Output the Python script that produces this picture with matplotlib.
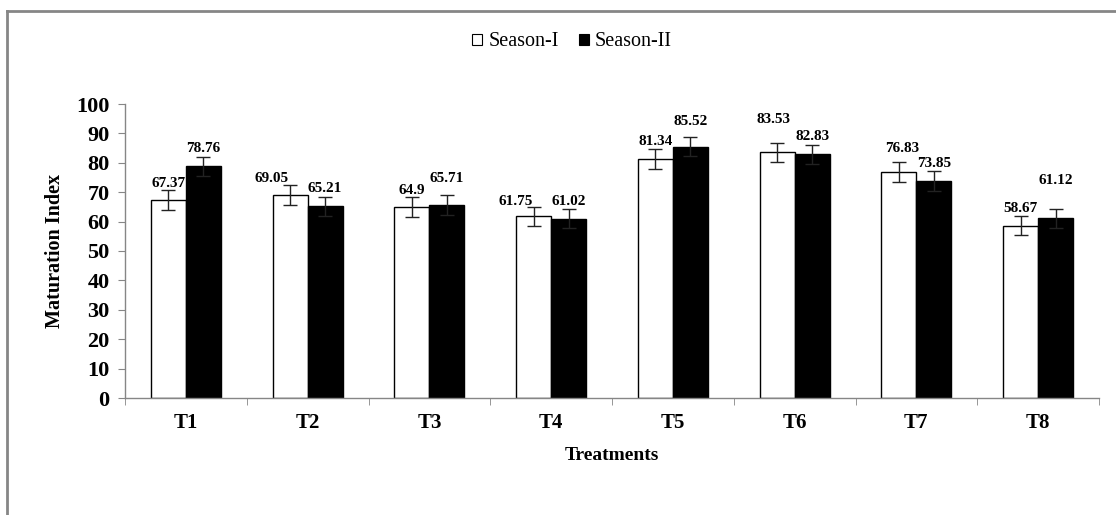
import matplotlib
matplotlib.use("Agg")
import matplotlib.pyplot as plt
import numpy as np
from matplotlib.patches import Rectangle
from matplotlib.lines import Line2D

treatments = ["T1", "T2", "T3", "T4", "T5", "T6", "T7", "T8"]
season1 = [67.37, 69.05, 64.9, 61.75, 81.34, 83.53, 76.83, 58.67]
season2 = [78.76, 65.21, 65.71, 61.02, 85.52, 82.83, 73.85, 61.12]
err1 = [3.3, 3.3, 3.3, 3.3, 3.3, 3.3, 3.3, 3.3]
err2 = [3.3, 3.3, 3.3, 3.3, 3.3, 3.3, 3.3, 3.3]
yticks = [0, 10, 20, 30, 40, 50, 60, 70, 80, 90, 100]

# label placement (data-unit heights and x shifts in category units)
lab1_y = [73.1, 74.8, 70.7, 66.7, 87.1, 94.6, 85.0, 64.6]
lab2_y = [85.0, 71.1, 74.8, 66.7, 94.2, 88.8, 79.9, 74.1]
lab1_dx = [0, -0.15, 0, -0.15, 0, -0.03, 0.03, 0]

plt.rcParams['font.family'] = ['Liberation Serif', 'DejaVu Serif']

fig = plt.figure(figsize=(11.16, 5.15), dpi=100)
W, H = 1116, 515
ax = fig.add_axes([125 / W, 1 - 398 / H, (1099 - 125) / W, (398 - 104) / H])

x = np.arange(len(treatments))
bw = 0.2875
gray = '#868686'
ax.bar(x - bw / 2, season1, bw, color='white', edgecolor='black', linewidth=1.0, zorder=2)
ax.bar(x + bw / 2, season2, bw, color='black', edgecolor='black', linewidth=1.0, zorder=2)
ax.errorbar(x - bw / 2, season1, yerr=err1, fmt='none', ecolor='#222222', elinewidth=1.0,
            capsize=5, capthick=1.0, zorder=3)
ax.errorbar(x + bw / 2, season2, yerr=err2, fmt='none', ecolor='#222222', elinewidth=1.0,
            capsize=5, capthick=1.0, zorder=3)

for i in range(len(treatments)):
    ax.text(x[i] - bw / 2 + lab1_dx[i], lab1_y[i], f"{season1[i]:g}", ha='center', va='center',
            fontsize=11, fontweight='bold', zorder=4)
    ax.text(x[i] + bw / 2, lab2_y[i], f"{season2[i]:g}", ha='center', va='center',
            fontsize=11, fontweight='bold', zorder=4)

ax.set_xlim(-0.5, len(treatments) - 0.5)
ax.set_ylim(0, 100)
ax.set_yticks(yticks)
ax.set_yticklabels([str(t) for t in yticks], fontsize=16, fontweight='bold')
ax.set_xticks(x)
ax.set_xticklabels(treatments, fontsize=15, fontweight='bold')
ax.tick_params(axis='x', length=0, pad=11)
ax.set_xticks(np.arange(len(treatments) + 1) - 0.5, minor=True)
ax.tick_params(axis='x', which='minor', length=5, color=gray, direction='out')
ax.tick_params(axis='y', length=5, color=gray, direction='out', pad=6)
for s in ['top', 'right']:
    ax.spines[s].set_visible(False)
for s in ['left', 'bottom']:
    ax.spines[s].set_color(gray)
    ax.spines[s].set_linewidth(1.0)

ax.set_ylabel("Maturation Index", fontsize=14.5, fontweight='bold', labelpad=8)
ax.set_xlabel("Treatments", fontsize=14, fontweight='bold', labelpad=10)

handles = [Rectangle((0, 0), 1, 1, facecolor='white', edgecolor='black', linewidth=0.8),
           Rectangle((0, 0), 1, 1, facecolor='black', edgecolor='black', linewidth=0.8)]
fig.legend(handles, ["Season-I", "Season-II"], loc='center', bbox_to_anchor=(572 / W, 1 - 42 / H),
           ncol=2, frameon=False, fontsize=14.5, handlelength=0.5, handleheight=0.5,
           handletextpad=0.3, columnspacing=1.0)

# outer chart border (left & top visible)
fig.add_artist(Line2D([7 / W, 7 / W], [0, 1 - 11 / H], transform=fig.transFigure, color=gray, linewidth=2))
fig.add_artist(Line2D([7 / W, 1], [1 - 11 / H, 1 - 11 / H], transform=fig.transFigure, color=gray, linewidth=2))

fig.savefig("out.png", dpi=100)
